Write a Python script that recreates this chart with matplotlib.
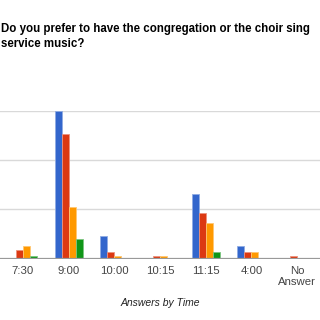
import matplotlib.pyplot as plt
import numpy as np
from matplotlib.colors import to_rgb

# categories and series (grid step = 10)
times = ['7:30', '9:00', '10:00', '10:15', '11:15', '4:00', 'No\nAnswer']
blue = [0, 29.9, 4.6, 0, 13.2, 2.6, 0]
red = [1.8, 25.3, 1.35, 0.55, 9.2, 1.3, 0.55]
orange = [2.6, 10.5, 0.6, 0.55, 7.2, 1.3, 0]
green = [0.55, 3.9, 0, 0, 1.3, 0, 0]

series = [blue, red, orange, green]
colors = ['#3366cc', '#dc3912', '#ff9900', '#109618']

plt.rcParams['font.family'] = ['Liberation Sans', 'DejaVu Sans']

fig = plt.figure(figsize=(3.2, 3.2), dpi=100)
fig.patch.set_facecolor('white')
ax = fig.add_axes([0.0, 0.1916, 1.0, 0.4616])

x = np.arange(len(times))
w = 0.153
for k, (vals, c) in enumerate(zip(series, colors)):
    light = tuple(0.55 * np.array(to_rgb(c)) + 0.45)
    ax.bar(x + (k - 1.5) * w, vals, width=w, color=c,
           edgecolor=light, linewidth=0.6, zorder=3)

ax.set_xlim(-0.5, 6.5)
ax.set_ylim(0, 30)
ax.set_yticks([10, 20, 30])
ax.yaxis.grid(True, color='#d9d9d9', linewidth=1.0, zorder=0)
ax.axhline(0, color='#999999', linewidth=1.6, zorder=4)
ax.tick_params(axis='y', left=False, labelleft=False)
ax.set_xticks(x)
ax.set_xticklabels(times, fontsize=8.2, color='#444444', linespacing=1.15)
ax.tick_params(axis='x', length=0, pad=5)
for s in ax.spines.values():
    s.set_visible(False)

fig.text(0.004, 0.929, 'Do you prefer to have the congregation or the choir sing\nservice music?',
         fontsize=8.3, fontweight='bold', color='black', va='top', ha='left',
         linespacing=1.35)
fig.text(0.5, 0.052, 'Answers by Time', fontsize=7.5, style='italic',
         color='#222222', ha='center', va='center')

fig.savefig('out.png', dpi=100, facecolor='white')
